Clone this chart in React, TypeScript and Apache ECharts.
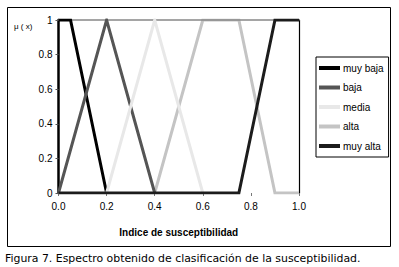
import React, { useEffect, useRef } from "react";
import * as echarts from "echarts";

const seriesNames = ["muy baja", "baja", "media", "alta", "muy alta"];
const muyBajaPts: [number, number][] = [[0, 1], [0.05, 1], [0.2, 0]];
const bajaPts: [number, number][] = [[0, 0], [0.2, 1], [0.4, 0]];
const mediaPts: [number, number][] = [[0.2, 0], [0.4, 1], [0.6, 0]];
const altaPts: [number, number][] = [[0.4, 0], [0.6, 1], [0.75, 1], [0.9, 0], [1.0, 0]];
const muyAltaPts: [number, number][] = [[0, 0], [0.75, 0], [0.9, 1], [1.0, 1]];
const seriesColors = ["#000000", "#555555", "#e8e8e8", "#c4c4c4", "#1c1c1c"];
const seriesWidths = [3, 3, 3, 3, 3];
const seriesZ = [2, 2, 2, 1, 2];
const xTicks = [0, 0.2, 0.4, 0.6, 0.8, 1.0];
const yTicks = [0, 0.2, 0.4, 0.6, 0.8, 1];
const xTitle = "Indice de susceptibilidad";
const yTitle = "μ ( x)";
const caption = "Figura 7. Espectro obtenido de clasificación de la susceptibilidad.";

const FONT = "'Liberation Sans Narrow', 'Liberation Sans', Arial, sans-serif";

export default function App() {
  const ref = useRef<HTMLDivElement>(null);
  useEffect(() => {
    if (!ref.current) return;
    const chart = echarts.init(ref.current, null, { renderer: "svg" });
    const allPts = [muyBajaPts, bajaPts, mediaPts, altaPts, muyAltaPts];
    const legendIcon = "path://M0,0 L21,0 L21,4 L0,4 Z";
    chart.setOption({
      animation: false,
      backgroundColor: "#ffffff",
      grid: { left: 58.5, right: 100, top: 20, bottom: 74 },
      legend: {
        orient: "vertical",
        left: 316,
        top: 57,
        padding: [6, 5, 6, 3],
        itemWidth: 21,
        itemHeight: 10,
        itemGap: 9.5,
        borderColor: "#000",
        borderWidth: 1,
        icon: legendIcon,
        textStyle: { fontFamily: FONT, fontSize: 10, color: "#000", padding: [0, 0, 0, -2], lineHeight: 10 },
        data: seriesNames,
      },
      xAxis: [
        {
          type: "value",
          min: 0,
          max: 1,
          interval: 0.2,
          position: "bottom",
          axisLine: { show: false },
          axisTick: { show: true, length: 3, lineStyle: { color: "#777" } },
          splitLine: { show: false },
          axisLabel: {
            margin: 8,
            fontFamily: FONT,
            fontSize: 10,
            color: "#000",
            formatter: (v: number) => (xTicks.includes(v) ? v.toFixed(1) : ""),
          },
          name: xTitle,
          nameLocation: "middle",
          nameGap: 34,
          nameTextStyle: { fontFamily: "'Liberation Sans', Arial, sans-serif", fontSize: 10, fontWeight: "bold", color: "#000" },
        },
        {
          type: "value",
          min: 0,
          max: 1,
          position: "top",
          z: 1.5,
          axisLine: { show: true, onZero: false, lineStyle: { color: "#888", width: 1.5 } },
          axisTick: { show: false },
          axisLabel: { show: false },
          splitLine: { show: false },
        },
      ],
      yAxis: [
        {
          type: "value",
          min: 0,
          max: 1,
          interval: 0.2,
          axisLine: { show: true, onZero: false, lineStyle: { color: "#000", width: 2.5 } },
          axisTick: { show: true, length: 3, lineStyle: { color: "#555" } },
          splitLine: { show: false },
          axisLabel: {
            margin: 6,
            fontFamily: FONT,
            fontSize: 10,
            color: "#000",
            formatter: (v: number) => {
              const t = yTicks.find((y) => Math.abs(y - v) < 1e-9);
              if (t === undefined) return "";
              return t === 0 || t === 1 ? String(t) : t.toFixed(1);
            },
          },
        },
        {
          type: "value",
          min: 0,
          max: 1,
          position: "right",
          axisLine: { show: true, onZero: false, lineStyle: { color: "#000", width: 1.2 } },
          axisTick: { show: false },
          axisLabel: { show: false },
          splitLine: { show: false },
        },
      ],
      series: seriesNames.map((n, i) => ({
        name: n,
        type: "line",
        xAxisIndex: 0,
        yAxisIndex: 0,
        z: seriesZ[i],
        data: allPts[i],
        symbol: "none",
        color: seriesColors[i],
        lineStyle: { color: seriesColors[i], width: seriesWidths[i], join: "miter" },
      })),
      graphic: [
        {
          type: "rect",
          shape: { x: 7.5, y: 7.5, width: 383, height: 239 },
          style: { fill: "none", stroke: "#000", lineWidth: 1 },
          silent: true,
        },
        {
          type: "text",
          x: 14,
          y: 26,
          style: { text: yTitle, fontFamily: FONT, fontSize: 8, fill: "#000", verticalAlign: "middle" },
        },
        {
          type: "text",
          x: 5,
          y: 258,
          style: { text: caption, fontFamily: "'DejaVu Sans', sans-serif", fontSize: 10.9, fill: "#000", verticalAlign: "middle" },
        },
      ],
    });
    return () => chart.dispose();
  }, []);
  return <div ref={ref} style={{ position: "fixed", left: 0, top: 0, width: 399, height: 267 }} />;
}
